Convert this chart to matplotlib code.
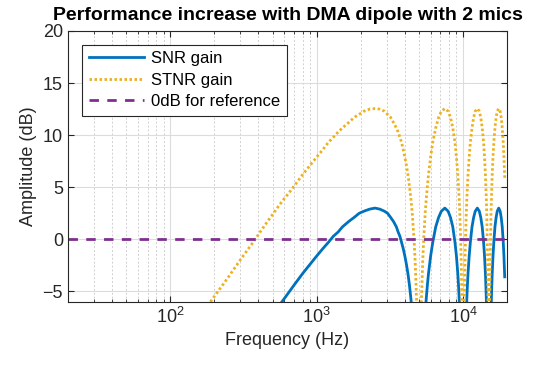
import numpy as np
import matplotlib
matplotlib.use("Agg")
import matplotlib.pyplot as plt
from matplotlib.ticker import LogLocator, NullFormatter

plt.rcParams['font.family'] = ['Liberation Sans', 'DejaVu Sans']

# values (Hz, dB)
snr_freq = [400, 500, 600, 700, 800, 900, 1000, 1100, 1200, 1300, 1400, 1500, 1650,
            1800, 1950, 2100, 2300, 2500, 2700, 2900, 3050, 3200, 3350, 3500, 3600,
            3700, 3800, 3900, 4000, 4100, 4200, 4300, 4400, 4500, 4700,
            5300, 5500, 5600, 5700, 5800, 6000, 6200, 6500, 6800, 7100, 7500, 7900, 8200,
            8500, 8800, 9000, 9200, 9300, 9400, 9500, 9700,
            10300, 10500, 10600, 10700, 10800, 11000, 11200, 11500, 11800, 12100, 12500,
            12900, 13200, 13500, 13800, 14000, 14200, 14300, 14400, 14500, 14700,
            15300, 15500, 15600, 15700, 15800, 16000, 16200, 16500, 16800, 17100, 17500,
            17900, 18200, 18500, 18800, 19000, 19230]
snr_db = [-9.1, -7.2, -5.7, -4.4, -3.3, -2.4, -1.6, -0.9, -0.3, 0.3, 0.7, 1.2, 1.7,
          2.1, 2.5, 2.7, 2.9, 3.0, 2.9, 2.7, 2.5, 2.1, 1.7, 1.2, 0.7,
          0.3, -0.3, -0.9, -1.6, -2.4, -3.3, -4.4, -5.7, -7.2, -11.5,
          -11.5, -7.2, -5.7, -4.4, -3.3, -1.6, -0.3, 1.2, 2.1, 2.7, 3.0, 2.7, 2.1,
          1.2, -0.3, -1.6, -3.3, -4.4, -5.7, -7.2, -11.5,
          -11.5, -7.2, -5.7, -4.4, -3.3, -1.6, -0.3, 1.2, 2.1, 2.7, 3.0,
          2.7, 2.1, 1.2, -0.3, -1.6, -3.3, -4.4, -5.7, -7.2, -11.5,
          -11.5, -7.2, -5.7, -4.4, -3.3, -1.6, -0.3, 1.2, 2.1, 2.7, 3.0,
          2.7, 2.1, 1.2, -0.3, -1.6, -3.6]

stnr_freq = [100, 150, 188, 250, 300, 380, 450, 500, 550, 600, 650, 700, 800, 900,
             1000, 1100, 1200, 1300, 1400, 1500, 1650, 1800, 1950, 2100, 2300, 2500,
             2700, 2900, 3050, 3200, 3350, 3500, 3600, 3700, 3800, 3900, 4000, 4100,
             4200, 4300, 4400, 4500, 4620, 4700, 4750, 4812, 4850, 4900,
             5100, 5150, 5188, 5250, 5300, 5380, 5500, 5600, 5700, 5800, 6000, 6200,
             6500, 6800, 7100, 7500, 7900, 8200, 8500, 8800, 9000, 9200, 9300, 9400,
             9500, 9620, 9700, 9750, 9812, 9850, 9900,
             10100, 10150, 10188, 10250, 10300, 10380, 10500, 10600, 10700, 10800,
             11000, 11200, 11500, 11800, 12100, 12500, 12900, 13200, 13500, 13800,
             14000, 14200, 14300, 14400, 14500, 14620, 14700, 14750, 14812, 14850, 14900,
             15100, 15150, 15188, 15250, 15300, 15380, 15500, 15600, 15700, 15800,
             16000, 16200, 16500, 16800, 17100, 17500, 17900, 18200, 18500, 18800,
             19000, 19230]
stnr_db = [-11.5, -8.0, -6.0, -3.6, -2.0, 0.0, 1.5, 2.4, 3.2, 3.9, 4.5, 5.1, 6.2, 7.1,
           7.9, 8.6, 9.3, 9.8, 10.3, 10.7, 11.2, 11.7, 12.0, 12.3, 12.5, 12.55,
           12.5, 12.3, 12.0, 11.7, 11.2, 10.7, 10.3, 9.8, 9.3, 8.6, 7.9, 7.1,
           6.2, 5.1, 3.9, 2.4, 0.0, -2.0, -3.6, -6.0, -8.0, -11.5,
           -11.5, -8.0, -6.0, -3.6, -2.0, 0.0, 2.4, 3.9, 5.1, 6.2, 7.9, 9.3,
           10.7, 11.7, 12.3, 12.55, 12.3, 11.7, 10.7, 9.3, 7.9, 6.2, 5.1, 3.9,
           2.4, 0.0, -2.0, -3.6, -6.0, -8.0, -11.5,
           -11.5, -8.0, -6.0, -3.6, -2.0, 0.0, 2.4, 3.9, 5.1, 6.2,
           7.9, 9.3, 10.7, 11.7, 12.3, 12.55, 12.3, 11.7, 10.7, 9.3,
           7.9, 6.2, 5.1, 3.9, 2.4, 0.0, -2.0, -3.6, -6.0, -8.0, -11.5,
           -11.5, -8.0, -6.0, -3.6, -2.0, 0.0, 2.4, 3.9, 5.1, 6.2,
           7.9, 9.3, 10.7, 11.7, 12.3, 12.55, 12.3, 11.7, 10.7, 9.3,
           7.9, 5.9]

ref_freq = [20, 20000]
ref_db = [0, 0]

fig = plt.figure(figsize=(5.39, 3.69), dpi=100)
ax = fig.add_axes([0.126, 0.182, 0.815, 0.734])

ax.plot(snr_freq, snr_db, color='#0072BD', lw=2, label='SNR gain')
ax.plot(stnr_freq, stnr_db, color='#EDB120', lw=2, linestyle=(0, (0.9, 0.9)),
        label='STNR gain')
ax.plot(ref_freq, ref_db, color='#7E2F8E', lw=2, linestyle=(0, (3.4, 3.0)),
        label='0dB for reference')

ax.set_xscale('log')
ax.set_xlim(20, 20000)
ax.set_ylim(-6, 20)
ax.set_yticks([-5, 0, 5, 10, 15, 20])
ax.xaxis.set_major_locator(LogLocator(base=10, numticks=10))
ax.xaxis.set_minor_locator(LogLocator(base=10, subs=np.arange(2, 10), numticks=20))
ax.xaxis.set_minor_formatter(NullFormatter())

ax.grid(True, which='major', color='#dcdcdc', lw=0.8, ls='-')
ax.grid(True, which='minor', axis='x', color='#d0d0d0', lw=0.7, ls=(0, (2, 2)))
ax.set_axisbelow(True)

ax.tick_params(which='both', direction='in', top=True, right=True, colors='#262626',
               labelsize=13)
ax.tick_params(which='major', length=4)
ax.tick_params(which='minor', length=2)
for s in ax.spines.values():
    s.set_color('#262626')
    s.set_linewidth(0.8)

ax.set_xlabel('Frequency (Hz)', fontsize=13, color='#262626')
ax.set_ylabel('Amplitude (dB)', fontsize=13, color='#262626')
ax.set_title('Performance increase with DMA dipole with 2 mics', fontsize=14,
             fontweight='bold', pad=8)

leg = ax.legend(loc='upper left', bbox_to_anchor=(0.033, 0.95), fontsize=12,
                handlelength=3.3, frameon=True, fancybox=False, borderpad=0.4,
                labelspacing=0.38, handletextpad=0.4, borderaxespad=0)
leg.get_frame().set_edgecolor('#262626')
leg.get_frame().set_linewidth(0.8)
leg.get_frame().set_alpha(1)

fig.savefig('out.png', dpi=100)
